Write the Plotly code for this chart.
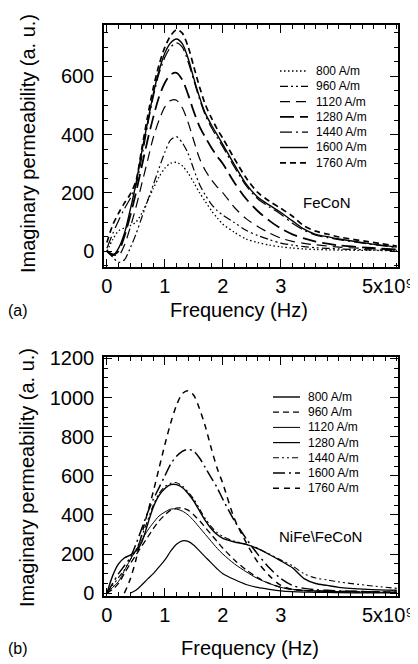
import plotly.graph_objects as go
from plotly.subplots import make_subplots

# field strengths (legend) and frequency grid in GHz
fields = [800, 960, 1120, 1280, 1440, 1600, 1760]
freq = [0, 0.1, 0.2, 0.3, 0.4, 0.5, 0.6, 0.7, 0.8, 0.9, 1.0, 1.1, 1.2, 1.3, 1.4, 1.5, 1.6,
        1.7, 1.8, 1.9, 2.0, 2.2, 2.4, 2.6, 2.8, 3.0, 3.2, 3.4, 3.6, 3.8, 4.0, 4.5, 5.0]

# (a) FeCoN
fecon_800 = [0, 40, 70, 80, 88, 100, 130, 172, 215, 255, 285, 302, 305, 293, 268, 235, 200,
             170, 140, 115, 93, 65, 42, 30, 21, 15, 11, 8, 6, 5, 4, 3, 2]
fecon_960 = [0, -20, -38, -30, 10, 58, 115, 172, 228, 285, 340, 382, 393, 372, 335, 280, 228,
             192, 162, 140, 124, 98, 72, 54, 40, 28, 21, 16, 12, 10, 8, 5, 3]
fecon_1120 = [0, -10, -15, 20, 80, 150, 230, 310, 390, 450, 495, 517, 518, 492, 442, 378, 317,
              276, 246, 221, 200, 150, 112, 85, 63, 45, 34, 27, 22, 18, 14, 9, 5]
fecon_1280 = [0, -12, 0, 50, 120, 200, 290, 380, 460, 530, 578, 606, 612, 588, 538, 478, 427,
              390, 356, 326, 300, 235, 180, 138, 105, 78, 58, 44, 33, 26, 20, 12, 6]
fecon_1440 = [10, 60, 105, 145, 180, 225, 320, 430, 530, 610, 665, 700, 715, 700, 650, 585, 520,
              465, 425, 390, 358, 288, 225, 180, 152, 127, 96, 72, 55, 47, 40, 25, 13]
fecon_1600 = [5, -15, 10, 60, 140, 230, 340, 440, 540, 620, 680, 715, 728, 712, 662, 592, 527,
              472, 434, 400, 366, 296, 231, 186, 158, 133, 104, 76, 58, 50, 42, 27, 14]
fecon_1760 = [30, 90, 130, 165, 195, 240, 350, 460, 560, 640, 700, 740, 760, 748, 702, 632, 562,
              502, 458, 420, 387, 317, 252, 202, 172, 147, 120, 87, 69, 59, 49, 33, 18]

# (b) NiFe\FeCoN
nife_800 = [0, 90, 150, 180, 195, 215, 260, 350, 440, 500, 535, 555, 555, 540, 510, 470, 420,
            370, 330, 300, 280, 262, 250, 228, 198, 165, 130, 75, 50, 40, 30, 20, 15]
nife_960 = [0, 20, 50, 100, 150, 195, 240, 285, 330, 370, 400, 425, 435, 435, 425, 400, 370,
            335, 300, 265, 230, 170, 120, 80, 50, 30, 20, 14, 11, 9, 8, 6, 5]
nife_1120 = [0, 30, 60, 115, 170, 220, 270, 320, 360, 395, 415, 430, 430, 420, 400, 370, 335,
             300, 265, 230, 200, 150, 110, 75, 50, 30, 20, 15, 12, 10, 8, 6, 5]
nife_1280 = [None, None, None, None, 0, 15, 42, 72, 100, 135, 170, 215, 250, 268, 265, 245, 215,
             185, 155, 125, 100, 70, 45, 30, 20, 12, 8, 6, 5, 4, 3, 2, 2]
nife_1440 = [0, 40, 80, 120, 170, 220, 290, 370, 450, 510, 545, 562, 565, 548, 518, 480, 430,
             380, 340, 310, 290, 266, 250, 230, 200, 170, 140, 100, 78, 68, 58, 40, 25]
nife_1600 = [0, 50, 100, 140, 180, 250, 330, 410, 480, 540, 600, 660, 700, 725, 735, 725, 690,
             640, 590, 540, 480, 370, 280, 200, 130, 75, 40, 25, 18, 15, 12, 8, 5]
nife_1760 = [None, None, None, 0, 70, 170, 300, 410, 520, 640, 760, 870, 960, 1020, 1035, 1010, 940,
             850, 740, 640, 560, 380, 260, 160, 90, 40, 20, 14, 12, 10, 10, 8, 5]

x_ticks = [0, 1, 2, 3]
x_last_label = '5x10\u2079'   # drawn separately, left of the x=5 tick like the original

panels = [
    dict(row=1, data=[fecon_800, fecon_960, fecon_1120, fecon_1280, fecon_1440, fecon_1600, fecon_1760],
         styles=[('1.5px,2.5px', 1.3), ('8px,3px,2px,3px,2px,3px', 1.2), ('10px,6px', 1.2),
                 ('14px,6px', 1.8), ('12px,4px,2px,4px', 1.2), ('solid', 1.4), ('6px,4px', 1.7)]),
    dict(row=2, data=[nife_800, nife_960, nife_1120, nife_1280, nife_1440, nife_1600, nife_1760],
         styles=[('solid', 1.4), ('6px,4px', 1.3), ('solid', 1.0), ('solid', 1.2),
                 ('6px,3px,2px,3px,2px,3px', 1.1), ('12px,4px,2px,4px', 1.5), ('6px,5px', 1.5)]),
]

# the page body has an 8px margin, so the figure is drawn 8px smaller and
# positions below are given in window pixels, then shifted
OFF = 8
W, H = 418 - OFF, 664 - OFF
ML, MR, MT, MB = 104 - OFF, 20, 25 - OFF, 68
PW, PH = W - ML - MR, H - MT - MB


def px(x):
    return (x - OFF - ML) / PW


def py(y):
    return (H - MB - (y - OFF)) / PH


font = "Liberation Sans, Arial, sans-serif"

fig = make_subplots(rows=2, cols=1)
fig.update_layout(
    xaxis=dict(domain=[0, 1]), yaxis=dict(domain=[py(267), 1]),
    xaxis2=dict(domain=[0, 1]), yaxis2=dict(domain=[0, py(357)]),
)

for p in panels:
    for h, vals, (dash, w) in zip(fields, p['data'], p['styles']):
        fig.add_trace(go.Scatter(
            x=freq, y=vals, mode='lines', name=f'{h} A/m',
            line=dict(color='black', width=w, dash=dash, shape='spline', smoothing=0.8),
            showlegend=False
        ), row=p['row'], col=1)

axis_common = dict(
    showline=True, linecolor='black', linewidth=1.5, mirror='allticks',
    ticks='inside', tickcolor='black', tickwidth=1.3, ticklen=8,
    showgrid=False, zeroline=False, automargin=False,
    tickfont=dict(family=font, size=20, color='black'),
)
fig.update_xaxes(axis_common, range=[-0.05, 5.02], tickvals=x_ticks,
                 minor=dict(tick0=0, dtick=0.2, ticks='inside', ticklen=4, tickcolor='black', tickwidth=1))
fig.update_yaxes(axis_common, ticklabelstandoff=4,
                 minor=dict(tick0=0, dtick=50, ticks='inside', ticklen=4, tickcolor='black', tickwidth=1))
fig.update_yaxes(range=[-54, 776], tickvals=[0, 200, 400, 600], row=1, col=1)
fig.update_yaxes(range=[-14, 1207], tickvals=[0, 200, 400, 600, 800, 1000, 1200], row=2, col=1)

# hand-made legends (tighter rows than plotly's legend allows)
legend_pos = [dict(x0=280, x1=308, tx=314, y0=71, dy=15.3),
              dict(x0=273, x1=300, tx=306, y0=397, dy=15.2)]
shapes, annots = [], []
for p, lp in zip(panels, legend_pos):
    for i, (h, (dash, w)) in enumerate(zip(fields, p['styles'])):
        y = lp['y0'] + i * lp['dy']
        shapes.append(dict(type='line', xref='paper', yref='paper',
                           x0=px(lp['x0']), x1=px(lp['x1']), y0=py(y), y1=py(y),
                           line=dict(color='black', width=w, dash=dash)))
        annots.append(dict(xref='paper', yref='paper', x=px(lp['tx']), y=py(y),
                           text=f'{h} A/m', showarrow=False, xanchor='left', yanchor='middle',
                           font=dict(family=font, size=12, color='black')))

# sample labels, axis titles, last x label and panel tags
annots += [
    dict(x=px(327), y=py(202), text='FeCoN', font=dict(size=15)),
    dict(x=px(320), y=py(536), text='NiFe\\FeCoN', font=dict(size=15)),
    dict(x=px(28), y=py(144), text='Imaginary permeability (a. u.)', textangle=-90, font=dict(size=20)),
    dict(x=px(27), y=py(478), text='Imaginary permeability (a. u.)', textangle=-90, font=dict(size=20)),
    dict(x=px(239), y=py(310), text='Frequency (Hz)', font=dict(size=20)),
    dict(x=px(250), y=py(648), text='Frequency (Hz)', font=dict(size=20)),
    dict(x=px(18), y=py(310), text='(a)', font=dict(size=16)),
    dict(x=px(18), y=py(648), text='(b)', font=dict(size=16)),
    dict(x=px(388), y=py(286), text=x_last_label, font=dict(size=20)),
    dict(x=px(388), y=py(615), text=x_last_label, font=dict(size=20)),
]
for a in annots[-10:]:
    a.update(xref='paper', yref='paper', showarrow=False, xanchor='center', yanchor='middle')
    a['font'].update(family=font, color='black')

fig.update_layout(
    width=W, height=H,
    margin=dict(l=ML, r=MR, t=MT, b=MB, autoexpand=False),
    paper_bgcolor='white', plot_bgcolor='white',
    showlegend=False,
    shapes=shapes, annotations=annots,
    font=dict(family=font, color='black'),
)

fig.write_html("out.html")
